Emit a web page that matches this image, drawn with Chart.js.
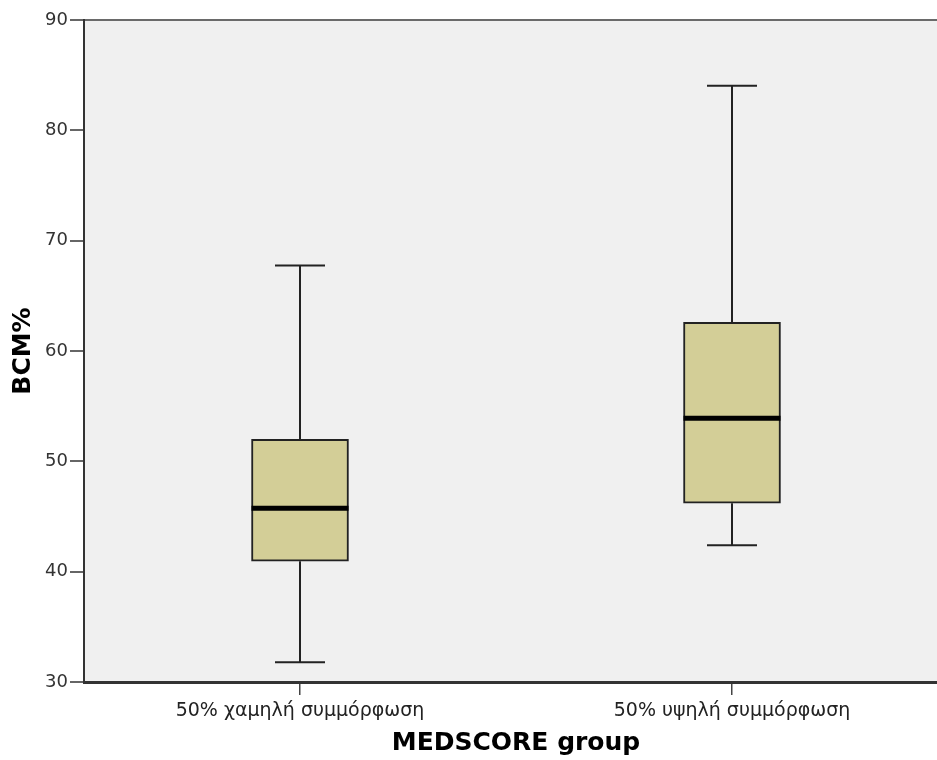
<!DOCTYPE html>
<html>
<head>
<meta charset="utf-8">
<script src="https://cdn.jsdelivr.net/npm/chart.js@4/dist/chart.umd.min.js"></script>
<style>
  html, body { margin: 0; padding: 0; background: #fff; overflow: hidden; }
  #wrap { width: 937px; height: 760px; overflow: hidden; }
</style>
</head>
<body>
<div id="wrap"><canvas id="boxChart" width="960" height="760"></canvas></div>
<script>
// Dane
const groups = ["50% χαμηλή συμμόρφωση", "50% υψηλή συμμόρφωση"];
const whiskerLow = [31.8, 42.4];
const q1 = [40.95, 46.2];
const median = [45.75, 53.9];
const q3 = [52.0, 62.6];
const whiskerHigh = [67.75, 84.05];
const yTicks = [30, 40, 50, 60, 70, 80, 90];

const boxColor = "#d3ce97";
const lineColor = "#222222";
const tickFont = "'DejaVu Sans', sans-serif";

// Tło obszaru wykresu + górna ramka
const plotBackground = {
    id: "plotBackground",
    beforeDraw(chart) {
        const { ctx, chartArea: a } = chart;
        ctx.save();
        ctx.fillStyle = "#f0f0f0";
        ctx.fillRect(a.left, a.top, a.right - a.left, a.bottom - a.top);
        ctx.strokeStyle = "#6a6a6a";
        ctx.lineWidth = 2;
        ctx.beginPath();
        ctx.moveTo(a.left, a.top);
        ctx.lineTo(a.right, a.top);
        ctx.stroke();
        ctx.restore();
    }
};

// Wąsy i mediana rysowane przez skale wykresu
const whiskers = {
    id: "whiskers",
    beforeDatasetsDraw(chart) {
        const { ctx, scales: { x, y } } = chart;
        ctx.save();
        ctx.strokeStyle = lineColor;
        ctx.lineWidth = 2;
        groups.forEach((g, i) => {
            const cx = x.getPixelForValue(i);
            const cap = 25;
            ctx.beginPath();
            ctx.moveTo(cx, y.getPixelForValue(whiskerHigh[i]));
            ctx.lineTo(cx, y.getPixelForValue(q3[i]));
            ctx.moveTo(cx, y.getPixelForValue(q1[i]));
            ctx.lineTo(cx, y.getPixelForValue(whiskerLow[i]));
            ctx.moveTo(cx - cap, y.getPixelForValue(whiskerHigh[i]));
            ctx.lineTo(cx + cap, y.getPixelForValue(whiskerHigh[i]));
            ctx.moveTo(cx - cap, y.getPixelForValue(whiskerLow[i]));
            ctx.lineTo(cx + cap, y.getPixelForValue(whiskerLow[i]));
            ctx.stroke();
        });
        ctx.restore();
    },
    afterDatasetsDraw(chart) {
        const { ctx, scales: { x, y } } = chart;
        const meta = chart.getDatasetMeta(0);
        ctx.save();
        ctx.strokeStyle = "#000";
        ctx.lineWidth = 5;
        groups.forEach((g, i) => {
            const bar = meta.data[i];
            const half = bar.width / 2;
            const cx = x.getPixelForValue(i);
            const my = y.getPixelForValue(median[i]);
            ctx.beginPath();
            ctx.moveTo(cx - half, my);
            ctx.lineTo(cx + half, my);
            ctx.stroke();
        });
        ctx.restore();
    }
};

const ctx = document.getElementById("boxChart").getContext("2d");
new Chart(ctx, {
    type: "bar",
    data: {
        labels: groups,
        datasets: [{
            label: "BCM%",
            data: groups.map((g, i) => [q1[i], q3[i]]),
            backgroundColor: boxColor,
            borderColor: lineColor,
            borderWidth: 2,
            borderSkipped: false,
            barThickness: 97
        }]
    },
    options: {
        responsive: false,
        animation: false,
        layout: { padding: { top: 20, right: 12, left: 0, bottom: 0 } },
        plugins: {
            legend: { display: false },
            tooltip: { enabled: false }
        },
        scales: {
            x: {
                grid: { offset: false, drawOnChartArea: false, tickLength: 13, color: "#444", lineWidth: 1.5 },
                border: { color: "#333", width: 3 },
                ticks: { color: "#222", padding: 5, font: { family: tickFont, size: 19 } },
                title: {
                    display: true,
                    text: "MEDSCORE group",
                    color: "#000",
                    padding: { top: 4, bottom: 2 },
                    font: { family: tickFont, size: 25, weight: "bold" }
                },
                afterFit(scale) { scale.height = 78; }
            },
            y: {
                min: 30,
                max: 90,
                afterBuildTicks(scale) { scale.ticks = yTicks.map(v => ({ value: v })); },
                grid: { drawOnChartArea: false, tickLength: 14, color: "#666", lineWidth: 2 },
                border: { color: "#333", width: 2 },
                ticks: { color: "#333", padding: 2, font: { family: tickFont, size: 18 } },
                title: {
                    display: true,
                    text: "BCM%",
                    color: "#000",
                    padding: { top: 8, bottom: 4 },
                    font: { family: tickFont, size: 25, weight: "bold" }
                },
                afterFit(scale) { scale.width = 84; }
            }
        }
    },
    plugins: [plotBackground, whiskers]
});
</script>
</body>
</html>
